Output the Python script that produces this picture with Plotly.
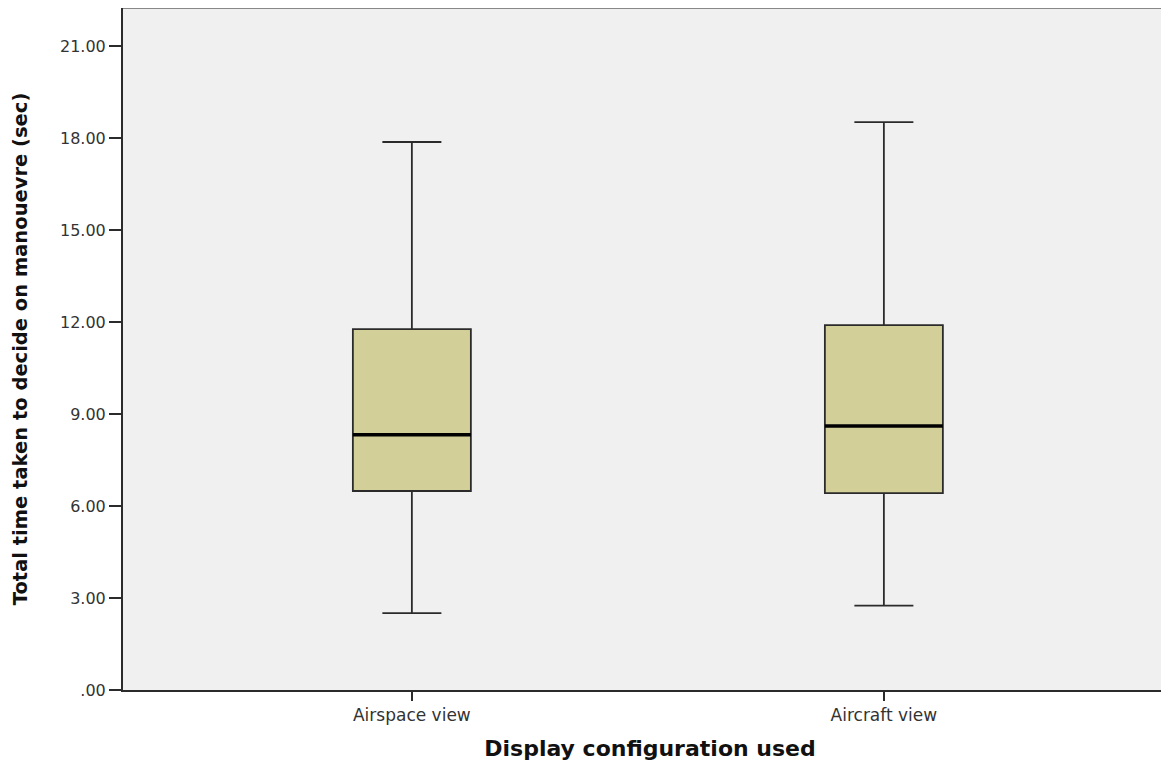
import plotly.graph_objects as go

# === Data ===
categories = ["Airspace view", "Aircraft view"]
lower_whisker = [2.51, 2.75]
q1 = [6.49, 6.42]
median = [8.32, 8.61]
q3 = [11.77, 11.90]
upper_whisker = [17.87, 18.52]

y_ticks = [0, 3, 6, 9, 12, 15, 18, 21]
y_ticklabels = [".00", "3.00", "6.00", "9.00", "12.00", "15.00", "18.00", "21.00"]

# === Style ===
box_fill = "#d3cf98"
line_col = "#2b2b2b"
bg = "#f0f0f0"
box_w = 0.25
x_pos = list(range(len(categories)))
font_ticks = "DejaVu Sans, Verdana, sans-serif"

fig = go.Figure()

fig.add_trace(go.Box(
    x=x_pos,
    q1=q1, median=median, q3=q3,
    lowerfence=lower_whisker, upperfence=upper_whisker,
    width=box_w,
    whiskerwidth=0.5,
    fillcolor=box_fill,
    line=dict(color=line_col, width=1.8),
    boxpoints=False,
    hoverinfo="skip",
    showlegend=False,
))

# thicker median line like SPSS
for xi, m in zip(x_pos, median):
    fig.add_trace(go.Scatter(
        x=[xi - box_w / 2, xi + box_w / 2], y=[m, m],
        mode="lines", line=dict(color="black", width=3.5),
        hoverinfo="skip", showlegend=False,
    ))

# page has an 8px body margin; plot runs off the right edge like the original
fig.update_layout(
    width=1169, height=756,
    margin=dict(l=115, r=0, t=0, b=74),
    paper_bgcolor="white",
    plot_bgcolor=bg,
    font=dict(family=font_ticks, color="#222"),
)

fig.update_xaxes(
    range=[-0.612, 1.621],
    tickvals=x_pos, ticktext=categories,
    ticks="outside", ticklen=9, tickcolor=line_col, tickwidth=2,
    tickfont=dict(size=17, color="#333"),
    showline=True, linecolor=line_col, linewidth=2,
    showgrid=False, zeroline=False,
    title=dict(text="<b>Display configuration used</b>",
               font=dict(size=22, family=font_ticks, color="#111"),
               standoff=16),
)

fig.update_yaxes(
    range=[0, 22.24],
    tickvals=y_ticks, ticktext=y_ticklabels,
    ticks="outside", ticklen=12, tickcolor=line_col, tickwidth=2,
    tickfont=dict(size=16, color="#333"),
    showline=True, linecolor=line_col, linewidth=2,
    showgrid=False, zeroline=False,
    title=dict(text="<b>Total time taken to decide on manouevre (sec)</b>",
               font=dict(size=19.5, family=font_ticks, color="#111"),
               standoff=27),
)

# top border of the plot frame (grey)
fig.add_shape(type="line", xref="paper", yref="paper", x0=0, x1=1, y0=1, y1=1,
              line=dict(color="#888", width=2))

fig.write_html("out.html")
